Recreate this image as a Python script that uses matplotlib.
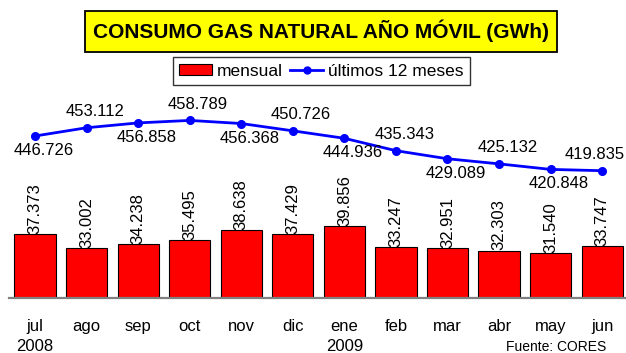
import matplotlib
matplotlib.use("Agg")
import matplotlib.pyplot as plt
from matplotlib.patches import Rectangle, Patch
from matplotlib.lines import Line2D

plt.rcParams['font.family'] = ['Liberation Sans', 'DejaVu Sans']

meses = ['jul\n2008', 'ago', 'sep', 'oct', 'nov', 'dic', 'ene\n2009',
         'feb', 'mar', 'abr', 'may', 'jun']
mensual = [37.373, 33.002, 34.238, 35.495, 38.638, 37.429, 39.856,
           33.247, 32.951, 32.303, 31.540, 33.747]
ultimos_12 = [446.726, 453.112, 456.858, 458.789, 456.368, 450.726, 444.936,
              435.343, 429.089, 425.132, 420.848, 419.835]

W, H = 626, 353
fig = plt.figure(figsize=(W / 100, H / 100), dpi=100)
ax = fig.add_axes([9.3 / W, 55.3 / H, 618.6 / W, 197.7 / H])
ax2 = ax.twinx()

x = list(range(len(meses)))

# barras mensuales
ax.bar(x, mensual, width=0.8, color='#FF0000', edgecolor='black',
       linewidth=0.8, bottom=0, zorder=2)
for xi, v in zip(x, mensual):
    ax.text(xi, v + 0.1, f"{v:.3f}", rotation=90, ha='center', va='bottom',
            fontsize=12, color='black')
ax.set_xlim(-0.5, 11.5)
ax.set_ylim(17.8, 78.6)

# acumulado últimos 12 meses
ax2.plot(x, ultimos_12, color='#0000FF', linewidth=2, marker='o',
         markersize=5.5, zorder=3)
ax2.set_ylim(321.48, 474.6)
for i, (xi, v) in enumerate(zip(x, ultimos_12)):
    dy = -10.5 if i % 2 == 0 else 11.5
    dx = -5 if i == len(x) - 1 else 6
    ax2.annotate(f"{v:.3f}", (xi, v), xytext=(dx, dy),
                 textcoords='offset points', ha='center', va='center',
                 fontsize=12, color='black')

for a in (ax, ax2):
    for side in ('top', 'right', 'left', 'bottom'):
        a.spines[side].set_visible(False)
    a.set_yticks([])
ax.spines['bottom'].set_visible(True)
ax.spines['bottom'].set_color('#808080')
ax.spines['bottom'].set_linewidth(1.6)
ax.spines['bottom'].set_zorder(5)

ax.set_xticks(x)
ax.set_xticklabels(meses, fontsize=12, linespacing=1.45)
ax.tick_params(axis='x', length=0, pad=15)
ax.patch.set_visible(False)
ax2.patch.set_visible(False)

# título en recuadro amarillo
fig.patches.append(Rectangle((85 / W, 1 - 52.3 / H), 472 / W, 41.3 / H,
                             transform=fig.transFigure, facecolor='#FFFF00',
                             edgecolor='black', linewidth=1.3))
fig.text(321 / W, 1 - 38.5 / H, 'CONSUMO GAS NATURAL AÑO MÓVIL (GWh)',
         ha='center', va='baseline', fontsize=15, fontweight='bold')

handles = [Patch(facecolor='#FF0000', edgecolor='black', linewidth=0.8),
           Line2D([], [], color='#0000FF', linewidth=2, marker='o', markersize=5)]
leg = fig.legend(handles, ['mensual', 'últimos 12 meses'], loc='center',
                 bbox_to_anchor=(321.5 / W, 1 - 71 / H), ncol=2,
                 fontsize=12.5, frameon=True, fancybox=False, shadow=False,
                 handlelength=1.9, handleheight=0.6, handletextpad=0.3,
                 columnspacing=0.4, borderpad=0.35, borderaxespad=0)
leg.get_frame().set_edgecolor('black')
leg.get_frame().set_linewidth(1.0)

fig.text(606 / W, 1 - 347 / H, 'Fuente: CORES', ha='right', va='center',
         fontsize=10)

fig.savefig('out.png', dpi=100)
